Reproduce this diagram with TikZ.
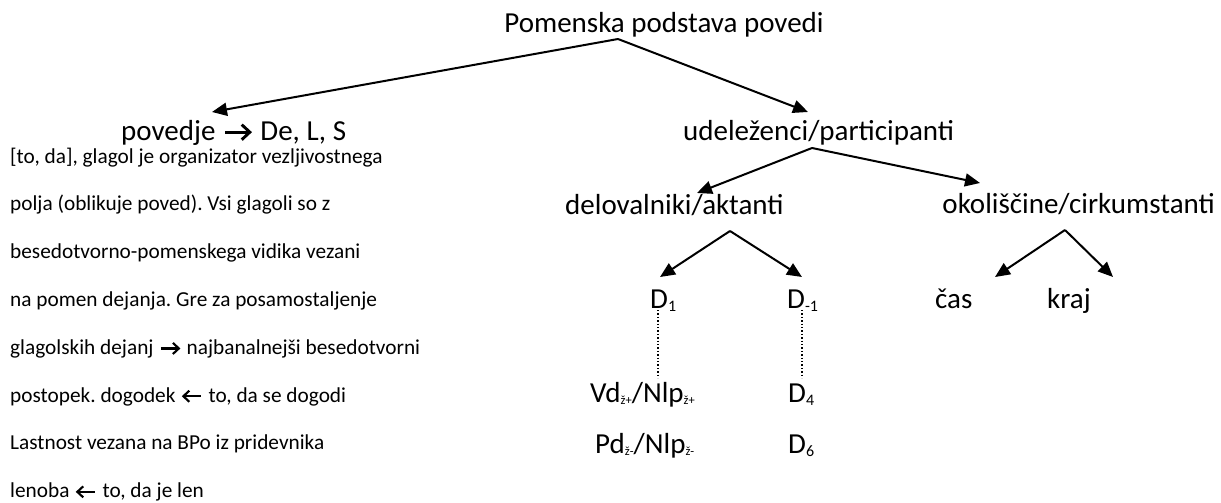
\documentclass[tikz,border=0pt]{standalone}
\usepackage{fontspec}
\setmainfont{Carlito}
\usetikzlibrary{arrows.meta}
\frenchspacing
% Wingdings-like arrows drawn with TikZ, sized by the current font
\newcommand{\rarr}{\tikz[x=1em,y=1em,baseline=0pt]{%
  \path (0,0) rectangle (1.1,0.5);
  \draw[line width=0.1em, line join=miter] (0.12,0.27) -- (0.93,0.27);
  \draw[line width=0.1em, line join=miter] (0.68,0.53) -- (0.96,0.27) -- (0.68,0.01);}}
\newcommand{\larr}{\tikz[x=1em,y=1em,baseline=0pt]{%
  \path (0,0) rectangle (1.1,0.5);
  \draw[line width=0.1em, line join=miter] (0.17,0.27) -- (0.98,0.27);
  \draw[line width=0.1em, line join=miter] (0.42,0.53) -- (0.14,0.27) -- (0.42,0.01);}}
\newcommand{\subD}[1]{\raisebox{-3pt}{\fontsize{16}{16}\selectfont #1}}
\newcommand{\subZ}[1]{\raisebox{-2pt}{\fontsize{12.5}{12.5}\selectfont #1}}
\begin{document}
\begin{tikzpicture}[x=1pt,y=-1pt,
  big/.style={inner sep=0pt, anchor=base west, font=\fontsize{29}{34}\selectfont},
  small/.style={inner sep=0pt, anchor=base west, font=\fontsize{21.3}{25}\selectfont},
  arr/.style={line width=2pt, -{Triangle[length=15pt,width=13pt]}},
  dots/.style={line width=1.4pt, dotted}]
\useasboundingbox (0,0) rectangle (1221,503);

% main tree nodes
\node[big, anchor=base] (title) at (664,33) {Pomenska podstava povedi};
\node[big] (povedje) at (121,140) {povedje \rarr{} De, L, S};
\node[big] (udel) at (683,140) {udeleženci/participanti};
\node[big] (delov) at (565,214) {delovalniki/aktanti};
\node[big, anchor=base east] (okol) at (1215,213) {okoliščine/cirkumstanti};
\node[big] (cas) at (935,308) {čas};
\node[big] (kraj) at (1047,308) {kraj};
\node[big] (d1) at (650,308) {D\subD{1}};
\node[big] (dm1) at (787,308) {D\subD{-1}};
\node[big] (vd) at (590,402) {Vd\subZ{ž+}/Nlp\subZ{ž+}};
\node[big] (d4) at (788,402) {D\subD{4}};
\node[big] (pd) at (595,453) {Pd\subZ{ž-}/Nlp\subZ{ž-}};
\node[big] (d6) at (788,453) {D\subD{6}};

% left explanatory text
\node[small] (l1) at (10,163) {[to, da], glagol je organizator vezljivostnega};
\node[small] (l2) at (10,210.8) {polja (oblikuje poved). Vsi glagoli so z};
\node[small] (l3) at (10,258.6) {besedotvorno-pomenskega vidika vezani};
\node[small] (l4) at (10,306.4) {na pomen dejanja. Gre za posamostaljenje};
\node[small] (l5) at (10,354.2) {glagolskih dejanj \rarr{} najbanalnejši besedotvorni};
\node[small] (l6) at (10,402) {postopek. dogodek \larr{} to, da se dogodi};
\node[small] (l7) at (10,449.8) {Lastnost vezana na BPo iz pridevnika};
\node[small] (l8) at (10,497.6) {lenoba \larr{} to, da je len};

% connector end points
\coordinate (aTitle) at (618,39);
\coordinate (tPov) at (212,112);
\coordinate (tUdel) at (808,112);
\coordinate (aUdel) at (812,148);
\coordinate (tDelov) at (697,193);
\coordinate (tOkol) at (980,183);
\coordinate (aDelov) at (730,231);
\coordinate (tD1) at (660,277);
\coordinate (tDm1) at (802,277);
\coordinate (aOkol) at (1065,230);
\coordinate (tCas) at (995,277);
\coordinate (tKraj) at (1113,277);
\coordinate (sD1) at (658,310);
\coordinate (eD1) at (658,378);
\coordinate (sDm1) at (802,310);
\coordinate (eDm1) at (802,378);

\draw[arr] (aTitle) -- (tPov);
\draw[arr] (aTitle) -- (tUdel);
\draw[arr] (aUdel) -- (tDelov);
\draw[arr] (aUdel) -- (tOkol);
\draw[arr] (aDelov) -- (tD1);
\draw[arr] (aDelov) -- (tDm1);
\draw[arr] (aOkol) -- (tCas);
\draw[arr] (aOkol) -- (tKraj);
\draw[dots] (sD1) -- (eD1);
\draw[dots] (sDm1) -- (eDm1);
\end{tikzpicture}
\end{document}
